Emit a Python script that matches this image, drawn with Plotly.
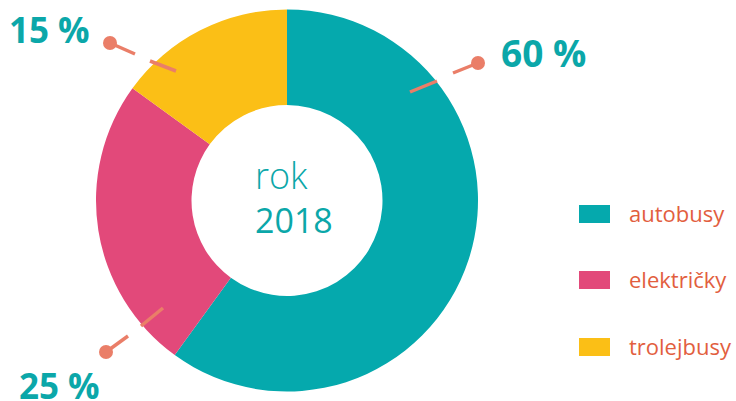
import plotly.graph_objects as go

W, H = 736, 401

categories = ["autobusy", "električky", "trolejbusy"]
values = [60, 25, 15]
pct_labels = [f"{v} %" for v in values]
center_lines = ["rok", "2018"]

colors = ["#05A9AD", "#E2497A", "#FBBF16"]
teal_text = "#0BA7A9"
lead_color = "#EA7E68"
legend_text = "#E25E3E"
FONT = "Open Sans"

# layout geometry (pixels)
pie_cx, pie_cy, pie_r = 287, 200.5, 191
leaders = {
    "autobusy": dict(dot=(478, 63), oe=(453, 73), i1=(437, 81), i2=(410, 92), lab=(499, 53), size=37),
    "električky": dict(dot=(106, 352), oe=(128, 336), i1=(141, 326), i2=(163, 308), lab=(17, 385), size=35),
    "trolejbusy": dict(dot=(110, 43), oe=(135, 54), i1=(150, 61), i2=(176, 71), lab=(7, 29), size=35),
}
legend_x0, legend_sq_w, legend_sq_h = 579, 31, 18
legend_y = [214, 280, 347]
legend_tx = 627


def px(x, y):
    return x / W, 1 - y / H


fig = go.Figure(go.Pie(
    labels=categories, values=values, hole=0.5, sort=False, direction="clockwise",
    rotation=0, marker=dict(colors=colors, line=dict(width=0)), textinfo="none",
    hoverinfo="skip", showlegend=False,
    domain=dict(x=[(pie_cx - pie_r) / W, (pie_cx + pie_r) / W],
                y=[1 - (pie_cy + pie_r) / H, 1 - (pie_cy - pie_r) / H]),
))

shapes, annotations = [], []
for cat, lab in zip(categories, pct_labels):
    L = leaders[cat]
    for a, b in [(L["dot"], L["oe"]), (L["i1"], L["i2"])]:
        x0, y0 = px(*a); x1, y1 = px(*b)
        shapes.append(dict(type="line", xref="paper", yref="paper", x0=x0, y0=y0, x1=x1, y1=y1,
                           line=dict(color=lead_color, width=3.5)))
    dx, dy = L["dot"]
    r = 7
    x0, y0 = px(dx - r, dy + r); x1, y1 = px(dx + r, dy - r)
    shapes.append(dict(type="circle", xref="paper", yref="paper", x0=x0, y0=y0, x1=x1, y1=y1,
                       fillcolor=lead_color, line=dict(width=0)))
    lx, ly = px(*L["lab"])
    annotations.append(dict(text=lab, x=lx, y=ly, xref="paper", yref="paper", xanchor="left",
                            yanchor="middle", showarrow=False,
                            font=dict(family=FONT, size=L["size"], color=teal_text, weight="bold")))

for cat, col, yc in zip(categories, colors, legend_y):
    x0, y0 = px(legend_x0, yc + legend_sq_h / 2); x1, y1 = px(legend_x0 + legend_sq_w, yc - legend_sq_h / 2)
    shapes.append(dict(type="rect", xref="paper", yref="paper", x0=x0, y0=y0, x1=x1, y1=y1,
                       fillcolor=col, line=dict(width=0)))
    tx, ty = px(legend_tx, yc - 1)
    annotations.append(dict(text=cat, x=tx, y=ty, xref="paper", yref="paper", xanchor="left",
                            yanchor="middle", showarrow=False,
                            font=dict(family=FONT, size=22, color=legend_text)))

center_text = (f"<span style='font-weight:300;font-size:36px'>{center_lines[0]}</span>"
               f"<br>{center_lines[1]}")
cx, cy = px(253, 197)
annotations.append(dict(text=center_text, x=cx, y=cy, xref="paper", yref="paper",
                        showarrow=False, xanchor="left", yanchor="middle", align="left",
                        font=dict(family=FONT, size=34, color=teal_text)))

fig.update_layout(width=W, height=H, margin=dict(l=0, r=0, t=0, b=0),
                  paper_bgcolor="white", plot_bgcolor="white",
                  shapes=shapes, annotations=annotations)
fig.write_html("out.html", config={"displayModeBar": False},
               post_script="document.body.style.margin='0';document.body.style.overflow='hidden';")
